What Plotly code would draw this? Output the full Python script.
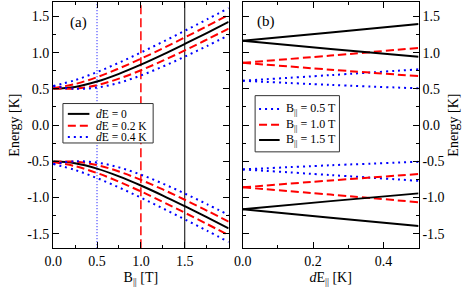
import plotly.graph_objects as go

# ---------------- data ----------------
B_a = [0.0, 0.25, 0.5, 0.75, 1.0, 1.25, 1.5, 1.75, 2.0]
E0_up = [0.500, 0.527, 0.601, 0.708, 0.834, 0.973, 1.120, 1.271, 1.426]
E02_up_hi = [0.510, 0.567, 0.662, 0.782, 0.916, 1.060, 1.210, 1.364, 1.521]
E02_up_lo = [0.510, 0.504, 0.552, 0.641, 0.757, 0.889, 1.031, 1.180, 1.333]
E04_up_hi = [0.539, 0.620, 0.732, 0.861, 1.002, 1.150, 1.302, 1.457, 1.615]
E04_up_lo = [0.539, 0.501, 0.518, 0.584, 0.685, 0.808, 0.945, 1.090, 1.241]
E0_dn = [-0.500, -0.527, -0.601, -0.708, -0.834, -0.973, -1.120, -1.271, -1.426]
E02_dn_hi = [-0.510, -0.504, -0.552, -0.641, -0.757, -0.889, -1.031, -1.180, -1.333]
E02_dn_lo = [-0.510, -0.567, -0.662, -0.782, -0.916, -1.060, -1.210, -1.364, -1.521]
E04_dn_hi = [-0.539, -0.501, -0.518, -0.584, -0.685, -0.808, -0.945, -1.090, -1.241]
E04_dn_lo = [-0.539, -0.620, -0.732, -0.861, -1.002, -1.150, -1.302, -1.457, -1.615]
B_marks = [0.5, 1.0, 1.5]

dE_b = [0.0, 0.25, 0.5]
B05_up_hi = [0.612, 0.690, 0.770]
B05_up_lo = [0.612, 0.555, 0.507]
B10_up_hi = [0.860, 0.960, 1.065]
B10_up_lo = [0.860, 0.765, 0.676]
B15_up_hi = [1.163, 1.280, 1.395]
B15_up_lo = [1.163, 1.050, 0.943]
B05_dn_hi = [-0.612, -0.555, -0.507]
B05_dn_lo = [-0.612, -0.690, -0.770]
B10_dn_hi = [-0.860, -0.765, -0.676]
B10_dn_lo = [-0.860, -0.960, -1.065]
B15_dn_hi = [-1.163, -1.050, -0.943]
B15_dn_lo = [-1.163, -1.280, -1.395]

legend_a_names = ["<i>d</i>E = 0", "<i>d</i>E = 0.2 K", "<i>d</i>E = 0.4 K"]
legend_b_names = ["B<sub>||</sub> = 0.5 T", "B<sub>||</sub> = 1.0 T", "B<sub>||</sub> = 1.5 T"]

y_ticks = [-1.5, -1.0, -0.5, 0.0, 0.5, 1.0, 1.5]
y_labels = ["-1.5", "-1.0", "-0.5", "0.0", "0.5", "1.0", "1.5"]
xa_ticks = [0.0, 0.5, 1.0, 1.5]
xa_labels = ["0.0", "0.5", "1.0", "1.5"]
xb_ticks = [0.0, 0.2, 0.4]
xb_labels = ["0.0", "0.2", "0.4"]

FONT = "Liberation Serif, Times New Roman, serif"
BLACK = "#000000"
RED = "#ff0000"
BLUE = "#0000ff"
DASH = "8px,4px"
DOT = "2px,4px"
W, H = 463, 287

fig = go.Figure()

def add(x, y, color, dash, name, xa, ya, width=2):
    fig.add_trace(go.Scatter(
        x=x, y=y, mode="lines", name=name, showlegend=False,
        line=dict(color=color, dash=dash, width=width, shape="spline"),
        xaxis=xa, yaxis=ya, hoverinfo="skip"))

# panel (a)
for arr in (E0_up, E0_dn):
    add(B_a, arr, BLACK, "solid", legend_a_names[0], "x", "y")
for arr in (E02_up_hi, E02_up_lo, E02_dn_hi, E02_dn_lo):
    add(B_a, arr, RED, DASH, legend_a_names[1], "x", "y")
for arr in (E04_up_hi, E04_up_lo, E04_dn_hi, E04_dn_lo):
    add(B_a, arr, BLUE, DOT, legend_a_names[2], "x", "y")

# panel (b)
for arr in (B05_up_hi, B05_up_lo, B05_dn_hi, B05_dn_lo):
    add(dE_b, arr, BLUE, DOT, legend_b_names[0], "x2", "y2")
for arr in (B10_up_hi, B10_up_lo, B10_dn_hi, B10_dn_lo):
    add(dE_b, arr, RED, DASH, legend_b_names[1], "x2", "y2")
for arr in (B15_up_hi, B15_up_lo, B15_dn_hi, B15_dn_lo):
    add(dE_b, arr, BLACK, "solid", legend_b_names[2], "x2", "y2")

common = dict(showline=True, linecolor=BLACK, linewidth=1, mirror="ticks",
              ticks="inside", ticklen=6, tickwidth=1, tickcolor=BLACK,
              showgrid=False, zeroline=False,
              tickfont=dict(family=FONT, size=14, color=BLACK),
              title_font=dict(family=FONT, size=14, color=BLACK))

yd = [1 - 251.7 / H, 1 - 2.0 / H]
fig.update_layout(
    width=W, height=H, margin=dict(l=0, r=0, t=0, b=0),
    paper_bgcolor="white", plot_bgcolor="white", showlegend=False,
    font=dict(family=FONT, size=12, color=BLACK),
    xaxis=dict(domain=[45 / W, 224 / W], range=[0, 2.0], anchor="y",
               tickvals=xa_ticks, ticktext=xa_labels,
               minor=dict(ticks="inside", ticklen=3, dtick=0.25, tick0=0, tickcolor=BLACK),
               title=dict(text="B<sub>||</sub> [T]", standoff=8), **common),
    yaxis=dict(domain=yd, range=[-1.7, 1.7], anchor="x",
               tickvals=y_ticks, ticktext=y_labels,
               minor=dict(ticks="inside", ticklen=3, dtick=0.25, tick0=0, tickcolor=BLACK),
               title=dict(text="Energy [K]", standoff=4), **common),
    xaxis2=dict(domain=[238.3 / W, 417.7 / W], range=[0, 0.5], anchor="y2",
                tickvals=xb_ticks, ticktext=xb_labels,
                minor=dict(ticks="inside", ticklen=3, dtick=0.1, tick0=0, tickcolor=BLACK),
                title=dict(text="<i>d</i>E<sub>||</sub> [K]", standoff=8), **common),
    yaxis2=dict(domain=yd, range=[-1.7, 1.7], anchor="x2", side="right",
                tickvals=y_ticks, ticktext=y_labels,
                minor=dict(ticks="inside", ticklen=3, dtick=0.25, tick0=0, tickcolor=BLACK),
                title=dict(text="Energy [K]", standoff=4), **common),
)

# vertical markers in panel (a)
mark_styles = [(BLUE, "1px,2px", 1), (RED, "9px,4px", 1.5), (BLACK, "solid", 1)]
for bv, (c, d, w) in zip(B_marks, mark_styles):
    fig.add_shape(type="line", xref="x", yref="y domain", x0=bv, x1=bv, y0=0, y1=1,
                  line=dict(color=c, dash=d, width=w), layer="below")

# ---------------- legends (drawn as boxes) ----------------
def px(x):
    return x / W

def py(y):
    return 1 - y / H

def legend_box(x0, x1, y0, y1, rows, styles, names, sx0, sx1, tx, fs):
    fig.add_shape(type="rect", xref="paper", yref="paper",
                  x0=px(x0), x1=px(x1), y0=py(y1), y1=py(y0),
                  fillcolor="white", line=dict(color="#333333", width=1), layer="above")
    for ry, (c, d), nm in zip(rows, styles, names):
        fig.add_shape(type="line", xref="paper", yref="paper",
                      x0=px(sx0), x1=px(sx1), y0=py(ry), y1=py(ry),
                      line=dict(color=c, dash=d, width=2), layer="above")
        fig.add_annotation(text=nm, xref="paper", yref="paper", x=px(tx), y=py(ry),
                           xanchor="left", yanchor="middle", showarrow=False, borderpad=0,
                           font=dict(family=FONT, size=fs, color=BLACK))

legend_box(55, 147, 105, 145, [115.5, 127.5, 139], [(BLACK, "solid"), (RED, DASH), (BLUE, DOT)],
           legend_a_names, 60, 82, 88, 11.5)
legend_box(251, 337, 97, 154, [110.5, 126.5, 142], [(BLUE, DOT), (RED, DASH), (BLACK, "solid")],
           legend_b_names, 255, 276, 281, 12)

fig.add_annotation(text="(a)", xref="paper", yref="paper", x=px(60), y=py(23),
                   xanchor="left", yanchor="middle", showarrow=False,
                   font=dict(family=FONT, size=15, color=BLACK))
fig.add_annotation(text="(b)", xref="paper", yref="paper", x=px(251), y=py(22),
                   xanchor="left", yanchor="middle", showarrow=False,
                   font=dict(family=FONT, size=15, color=BLACK))

fig.write_html("out.html", config={"displayModeBar": False},
               post_script="document.body.style.margin='0';")
